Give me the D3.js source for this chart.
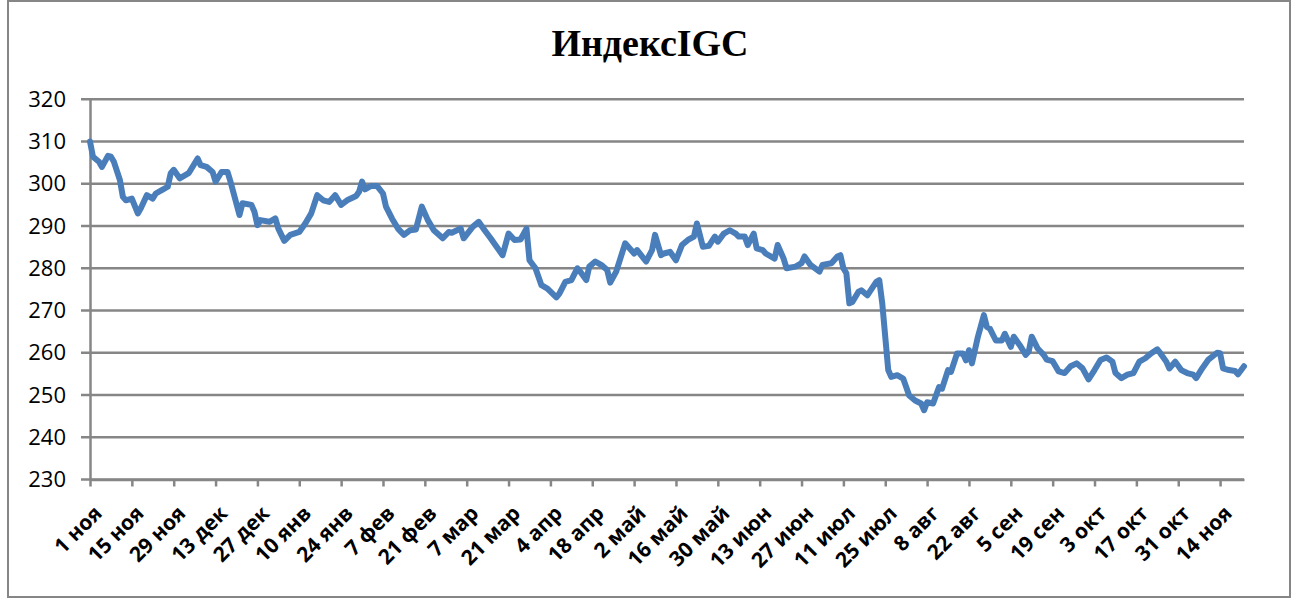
<!DOCTYPE html>
<html><head><meta charset="utf-8">
<script src="https://cdn.jsdelivr.net/npm/d3@7"></script>
<style>body{margin:0;background:#fff}</style>
</head><body><svg id="c" width="1298" height="603"></svg>
<script>
const title = "ИндексIGC";
const dates = ["2010-11-01","2010-11-02","2010-11-04","2010-11-05","2010-11-07","2010-11-08","2010-11-09","2010-11-11","2010-11-12","2010-11-13","2010-11-15","2010-11-17","2010-11-18","2010-11-20","2010-11-22","2010-11-23","2010-11-25","2010-11-27","2010-11-28","2010-11-29","2010-12-01","2010-12-03","2010-12-04","2010-12-07","2010-12-08","2010-12-10","2010-12-12","2010-12-13","2010-12-15","2010-12-17","2010-12-18","2010-12-21","2010-12-22","2010-12-25","2010-12-26","2010-12-27","2010-12-28","2010-12-31","2011-01-02","2011-01-03","2011-01-05","2011-01-07","2011-01-10","2011-01-12","2011-01-14","2011-01-16","2011-01-18","2011-01-20","2011-01-22","2011-01-24","2011-01-26","2011-01-29","2011-01-30","2011-01-31","2011-02-01","2011-02-03","2011-02-05","2011-02-07","2011-02-08","2011-02-10","2011-02-12","2011-02-14","2011-02-16","2011-02-18","2011-02-20","2011-02-22","2011-02-24","2011-02-27","2011-03-01","2011-03-02","2011-03-05","2011-03-06","2011-03-09","2011-03-11","2011-03-13","2011-03-15","2011-03-17","2011-03-19","2011-03-21","2011-03-23","2011-03-25","2011-03-27","2011-03-28","2011-03-30","2011-04-01","2011-04-03","2011-04-06","2011-04-07","2011-04-09","2011-04-11","2011-04-13","2011-04-14","2011-04-16","2011-04-17","2011-04-19","2011-04-21","2011-04-23","2011-04-24","2011-04-26","2011-04-29","2011-05-02","2011-05-03","2011-05-06","2011-05-08","2011-05-09","2011-05-11","2011-05-12","2011-05-14","2011-05-16","2011-05-18","2011-05-20","2011-05-22","2011-05-23","2011-05-25","2011-05-27","2011-05-29","2011-05-30","2011-06-01","2011-06-03","2011-06-05","2011-06-06","2011-06-08","2011-06-09","2011-06-11","2011-06-12","2011-06-14","2011-06-15","2011-06-18","2011-06-19","2011-06-21","2011-06-22","2011-06-25","2011-06-27","2011-06-28","2011-06-30","2011-07-03","2011-07-04","2011-07-07","2011-07-09","2011-07-10","2011-07-11","2011-07-12","2011-07-13","2011-07-14","2011-07-16","2011-07-17","2011-07-19","2011-07-22","2011-07-23","2011-07-24","2011-07-25","2011-07-26","2011-07-27","2011-07-29","2011-07-31","2011-08-02","2011-08-04","2011-08-06","2011-08-07","2011-08-08","2011-08-10","2011-08-12","2011-08-13","2011-08-15","2011-08-16","2011-08-18","2011-08-20","2011-08-21","2011-08-22","2011-08-23","2011-08-25","2011-08-27","2011-08-28","2011-08-29","2011-08-31","2011-09-02","2011-09-03","2011-09-05","2011-09-06","2011-09-08","2011-09-10","2011-09-11","2011-09-12","2011-09-14","2011-09-16","2011-09-17","2011-09-19","2011-09-21","2011-09-23","2011-09-25","2011-09-27","2011-09-29","2011-10-01","2011-10-03","2011-10-05","2011-10-07","2011-10-09","2011-10-10","2011-10-12","2011-10-14","2011-10-16","2011-10-18","2011-10-20","2011-10-22","2011-10-24","2011-10-25","2011-10-27","2011-10-28","2011-10-30","2011-11-01","2011-11-03","2011-11-05","2011-11-06","2011-11-08","2011-11-10","2011-11-13","2011-11-14","2011-11-15","2011-11-17","2011-11-19","2011-11-20","2011-11-22"];
const values = [310.0,306.4,305.2,304.0,306.6,306.4,305.2,300.9,296.9,296.1,296.5,293.0,294.2,297.3,296.5,297.7,298.5,299.3,302.5,303.3,301.3,302.1,302.5,306.0,304.4,304.0,302.8,300.5,302.8,302.8,300.5,292.6,295.4,295.0,293.4,290.2,291.4,291.0,291.8,289.4,286.5,287.9,288.6,290.6,293.0,297.3,296.1,295.7,297.3,295.0,296.1,297.1,298.1,300.5,298.7,299.5,299.5,297.7,294.6,291.8,289.4,287.9,289.0,289.2,294.6,291.4,289.0,287.1,288.6,288.4,289.4,287.1,289.8,291.0,289.0,287.1,285.1,283.1,288.2,286.7,286.8,289.4,281.9,280.0,276.0,275.2,273.1,274.0,276.8,277.2,280.0,279.2,277.2,280.4,281.6,280.8,279.6,276.6,279.2,285.9,283.5,284.3,281.6,284.3,287.9,283.1,283.5,283.9,281.9,285.5,286.7,287.5,290.6,285.1,285.3,287.5,286.3,288.2,289.0,288.2,287.5,287.5,285.5,288.2,284.7,284.3,283.5,282.3,285.5,282.3,280.0,280.4,281.2,282.8,280.8,279.2,280.8,281.2,282.8,283.1,280.0,278.8,271.7,272.0,274.4,274.8,273.6,276.8,277.2,271.7,263.8,255.9,254.3,254.7,253.9,249.9,248.7,248.0,246.4,248.3,248.0,251.9,251.5,255.9,255.5,259.8,259.8,258.2,260.6,257.5,263.8,268.9,266.1,265.7,262.9,262.9,264.5,261.4,263.8,261.8,259.5,260.3,263.8,261.0,259.5,258.4,258.0,255.6,255.2,256.8,257.5,256.3,253.7,255.9,258.3,258.9,257.9,255.2,254.0,254.8,255.2,257.9,258.7,259.9,260.8,259.9,257.9,256.3,257.9,255.9,255.2,254.8,254.0,256.3,258.3,260.0,259.9,256.3,255.9,255.7,254.9,256.8];
const tickDates = ["2010-11-01","2010-11-15","2010-11-29","2010-12-13","2010-12-27","2011-01-10","2011-01-24","2011-02-07","2011-02-21","2011-03-07","2011-03-21","2011-04-04","2011-04-18","2011-05-02","2011-05-16","2011-05-30","2011-06-13","2011-06-27","2011-07-11","2011-07-25","2011-08-08","2011-08-22","2011-09-05","2011-09-19","2011-10-03","2011-10-17","2011-10-31","2011-11-14"];
const tickLabels = ["1 ноя","15 ноя","29 ноя","13 дек","27 дек","10 янв","24 янв","7 фев","21 фев","7 мар","21 мар","4 апр","18 апр","2 май","16 май","30 май","13 июн","27 июн","11 июл","25 июл","8 авг","22 авг","5 сен","19 сен","3 окт","17 окт","31 окт","14 ноя"];
const yTicks = [230,240,250,260,270,280,290,300,310,320];
const axisDomain = ["2010-11-01","2011-11-22"];

const parse = d3.timeParse("%Y-%m-%d");
const data = dates.map((d,i)=>({date:parse(d), value:values[i]}));
const svg = d3.select("#c");
const L = 90, R = 1244, T = 99.3, B = 479.5;
const grey = "#868686";

svg.append("rect").attr("x",8).attr("y",1).attr("width",1282).attr("height",596)
  .attr("fill","#fff").attr("stroke",grey).attr("stroke-width",2);

const x = d3.scaleTime().domain(axisDomain.map(parse)).range([L,R]);
const y = d3.scaleLinear().domain([230,320]).range([B,T]);

svg.append("text").attr("x",650).attr("y",56).attr("text-anchor","middle")
  .attr("font-family","Liberation Serif, Times New Roman, serif").attr("font-weight","bold")
  .attr("font-size",38).attr("fill","#000").text(title);

// gridlines
svg.append("g").selectAll("line").data(yTicks).join("line")
  .attr("x1",L-9).attr("x2",R).attr("y1",d=>y(d)).attr("y2",d=>y(d))
  .attr("stroke",grey).attr("stroke-width",2.5);

// y axis
const ya = svg.append("g").attr("transform",`translate(${L},0)`)
  .call(d3.axisLeft(y).tickValues(yTicks).tickSize(0).tickPadding(24));
ya.select(".domain").attr("stroke",grey).attr("stroke-width",2.5);
ya.selectAll("text").attr("font-family","Open Sans, sans-serif").attr("font-size",22).attr("fill","#000");

// x axis (ticks only)
const tickD = tickDates.map(parse);
const xa = svg.append("g").attr("transform",`translate(0,${B})`)
  .call(d3.axisBottom(x).tickValues(tickD).tickFormat("").tickSize(7).tickSizeOuter(0));
xa.select(".domain").attr("stroke",grey).attr("stroke-width",2.5);
xa.selectAll(".tick line").attr("stroke",grey).attr("stroke-width",2.5);

// tick labels (intended at -45°)
svg.append("g").selectAll("text").data(tickD).join("text")
  .attr("transform",(d)=>`translate(${x(d)+8},${B+30}) rotate(-45)`)
  .attr("text-anchor","end").attr("dy","0.35em")
  .style("font-family","Open Sans, sans-serif").style("font-weight","bold")
  .style("font-size","21px").attr("fill","#000")
  .text((d,i)=>tickLabels[i]);

// line
svg.append("path").datum(data)
  .attr("d", d3.line().x(d=>x(d.date)).y(d=>y(d.value)))
  .attr("fill","none").attr("stroke","#4a7ebb").attr("stroke-width",6)
  .attr("stroke-linejoin","round").attr("stroke-linecap","round");
</script></body></html>
